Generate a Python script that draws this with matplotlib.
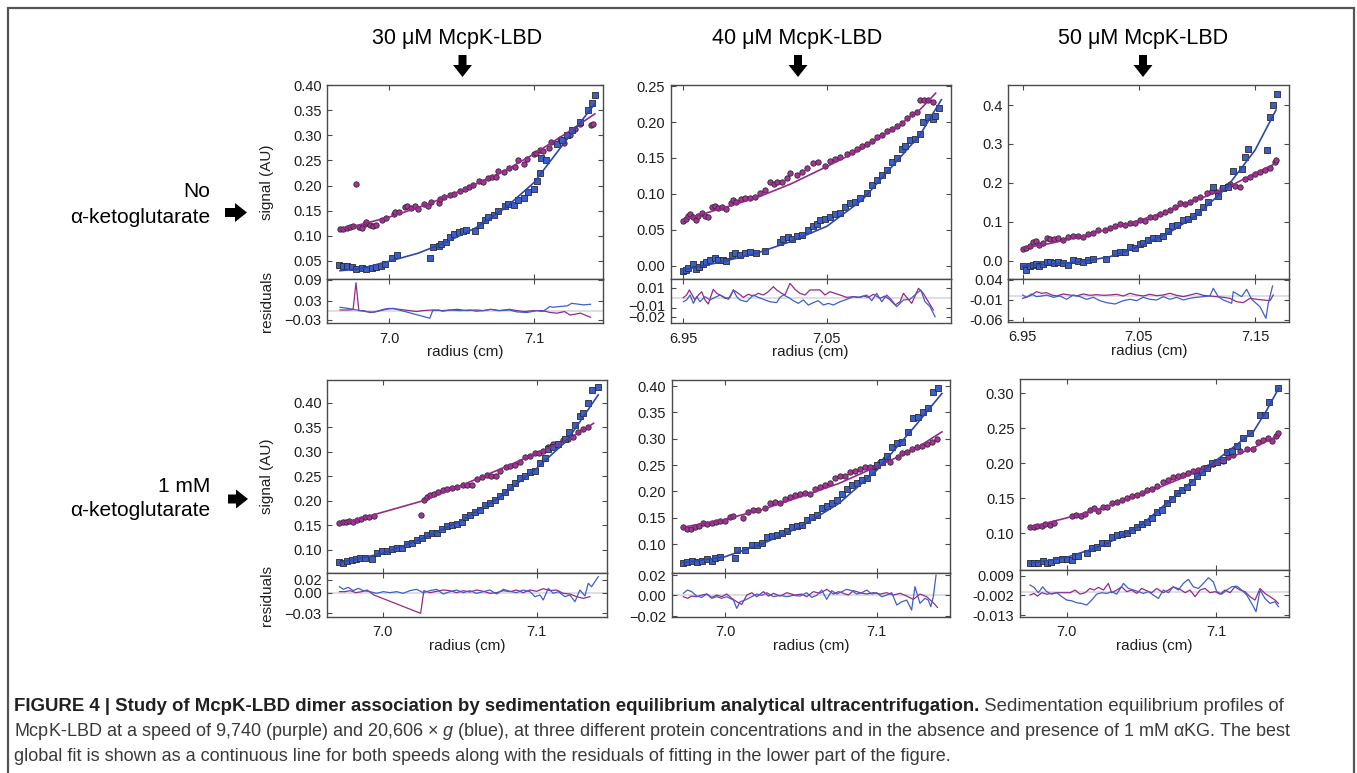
import matplotlib.pyplot as plt
from matplotlib.patches import Polygon, Rectangle
from matplotlib import font_manager

plt.rcParams['font.family'] = ['Liberation Sans', 'DejaVu Sans']
plt.rcParams['mathtext.fontset'] = 'custom'
plt.rcParams['mathtext.it'] = 'Liberation Sans:italic'
plt.rcParams['mathtext.rm'] = 'Liberation Sans'

# ---------------- data: (radius cm, signal AU) ----------------
# 30 uM, no aKG
a_pur = [(6.966, 0.114), (6.968, 0.114), (6.971, 0.116), (6.973, 0.118), (6.975, 0.120), (6.977, 0.204),
         (6.979, 0.118), (6.981, 0.116), (6.983, 0.124), (6.984, 0.128), (6.987, 0.122), (6.989, 0.120),
         (6.991, 0.121), (6.995, 0.132), (6.998, 0.136), (7.003, 0.143), (7.004, 0.147), (7.007, 0.147),
         (7.011, 0.157), (7.012, 0.159), (7.015, 0.155), (7.018, 0.159), (7.020, 0.154), (7.024, 0.163),
         (7.027, 0.159), (7.029, 0.167), (7.034, 0.165), (7.035, 0.174), (7.038, 0.177), (7.042, 0.181),
         (7.045, 0.184), (7.049, 0.189), (7.052, 0.194), (7.055, 0.197), (7.058, 0.202), (7.062, 0.209),
         (7.065, 0.207), (7.068, 0.214), (7.071, 0.217), (7.074, 0.216), (7.075, 0.229), (7.079, 0.227),
         (7.083, 0.234), (7.087, 0.237), (7.089, 0.250), (7.093, 0.242), (7.095, 0.253), (7.100, 0.262),
         (7.101, 0.265), (7.104, 0.270), (7.106, 0.269), (7.110, 0.275), (7.112, 0.287), (7.118, 0.293),
         (7.121, 0.285), (7.125, 0.300), (7.128, 0.313), (7.132, 0.323), (7.139, 0.320), (7.141, 0.323)]
a_blu = [(6.965, 0.041), (6.968, 0.040), (6.971, 0.039), (6.974, 0.038), (6.977, 0.033), (6.981, 0.035),
         (6.984, 0.033), (6.988, 0.035), (6.991, 0.038), (6.994, 0.040), (6.997, 0.043), (7.002, 0.055),
         (7.005, 0.061), (7.028, 0.056), (7.030, 0.078), (7.034, 0.079), (7.036, 0.084), (7.039, 0.088),
         (7.042, 0.098), (7.045, 0.104), (7.048, 0.108), (7.051, 0.110), (7.053, 0.112), (7.059, 0.109),
         (7.063, 0.122), (7.066, 0.132), (7.068, 0.137), (7.072, 0.141), (7.075, 0.149), (7.080, 0.159),
         (7.082, 0.163), (7.086, 0.161), (7.089, 0.172), (7.093, 0.176), (7.096, 0.187), (7.100, 0.194),
         (7.102, 0.209), (7.104, 0.225), (7.105, 0.255), (7.108, 0.250), (7.116, 0.283), (7.119, 0.291),
         (7.123, 0.300), (7.126, 0.311), (7.132, 0.326), (7.137, 0.350), (7.140, 0.364), (7.142, 0.381)]
a_pfit = [(6.966, 0.113), (6.98, 0.122), (7.0, 0.137), (7.02, 0.156), (7.04, 0.178), (7.06, 0.203),
          (7.08, 0.230), (7.10, 0.263), (7.12, 0.300), (7.142, 0.343)]
a_bfit = [(6.966, 0.030), (6.98, 0.034), (7.0, 0.049), (7.02, 0.065), (7.04, 0.088), (7.06, 0.116),
          (7.08, 0.155), (7.10, 0.206), (7.12, 0.282), (7.142, 0.363)]
a_pres = [(6.966, 0.002), (6.971, 0.002), (6.975, 0.003), (6.977, 0.088), (6.979, 0.0), (6.982, 0.0),
          (6.987, -0.006), (6.991, -0.003), (6.996, 0.004), (7.000, 0.007), (7.007, 0.004), (7.014, 0.0),
          (7.019, -0.003), (7.023, 0.0), (7.030, 0.002), (7.037, 0.0), (7.047, 0.004), (7.053, 0.0),
          (7.060, 0.002), (7.065, 0.0), (7.070, 0.004), (7.076, 0.0), (7.083, 0.004), (7.088, 0.0),
          (7.093, -0.003), (7.100, 0.0), (7.106, 0.0), (7.111, -0.006), (7.116, -0.008), (7.121, -0.003),
          (7.125, -0.014), (7.132, -0.008), (7.139, -0.021)]
a_bres = [(6.966, 0.0105), (6.971, 0.0074), (6.975, 0.0042), (6.980, 0.0), (6.984, -0.0032), (6.989, -0.0053),
          (6.994, 0.0), (6.998, 0.0042), (7.003, 0.0074), (7.005, 0.0042), (7.028, -0.024), (7.030, 0.0),
          (7.034, 0.002), (7.037, -0.002), (7.042, 0.002), (7.049, 0.0), (7.056, 0.002), (7.060, -0.002),
          (7.065, 0.0), (7.070, 0.004), (7.076, 0.0), (7.083, 0.002), (7.088, -0.004), (7.095, -0.006),
          (7.102, 0.0), (7.106, -0.003), (7.111, 0.013), (7.113, 0.0105), (7.118, 0.013), (7.123, 0.015),
          (7.126, 0.023), (7.131, 0.020), (7.134, 0.018), (7.139, 0.020)]

# 40 uM, no aKG
b_pur = [(6.950, 0.062), (6.952, 0.065), (6.9535, 0.069), (6.955, 0.072), (6.957, 0.068), (6.959, 0.064),
         (6.9605, 0.069), (6.963, 0.074), (6.965, 0.069), (6.967, 0.0685), (6.970, 0.082), (6.972, 0.083),
         (6.974, 0.080), (6.977, 0.082), (6.980, 0.079), (6.983, 0.088), (6.985, 0.091), (6.987, 0.089),
         (6.990, 0.093), (6.993, 0.094), (6.9965, 0.095), (7.000, 0.096), (7.0035, 0.102), (7.007, 0.106),
         (7.0105, 0.116), (7.013, 0.114), (7.015, 0.117), (7.0186, 0.116), (7.022, 0.122), (7.0244, 0.129),
         (7.029, 0.126), (7.0326, 0.131), (7.036, 0.136), (7.0407, 0.143), (7.0442, 0.144), (7.0488, 0.139),
         (7.0523, 0.146), (7.0558, 0.148), (7.0593, 0.152), (7.064, 0.156), (7.0674, 0.159), (7.0709, 0.162),
         (7.0744, 0.166), (7.0779, 0.170), (7.0814, 0.174), (7.0849, 0.179), (7.0884, 0.182), (7.0919, 0.187),
         (7.0953, 0.190), (7.0988, 0.194), (7.1023, 0.199), (7.1058, 0.205), (7.1093, 0.211), (7.1128, 0.214),
         (7.1151, 0.231), (7.1179, 0.230), (7.1209, 0.231), (7.1244, 0.228)]
b_blu = [(6.950, -0.0065), (6.952, -0.0056), (6.9535, -0.003), (6.9565, 0.003), (6.959, -0.0046),
         (6.961, -0.002), (6.964, 0.003), (6.966, 0.006), (6.9686, 0.008), (6.972, 0.011), (6.9744, 0.008),
         (6.9774, 0.008), (6.980, 0.007), (6.9837, 0.015), (6.986, 0.018), (6.9895, 0.015), (6.993, 0.018),
         (6.9965, 0.019), (7.001, 0.0185), (7.007, 0.021), (7.0174, 0.034), (7.0198, 0.037), (7.0233, 0.040),
         (7.0256, 0.038), (7.029, 0.042), (7.0326, 0.043), (7.0372, 0.050), (7.0407, 0.055), (7.043, 0.058),
         (7.0453, 0.064), (7.0488, 0.065), (7.0523, 0.0685), (7.0558, 0.072), (7.0593, 0.074), (7.0628, 0.082),
         (7.0663, 0.087), (7.0698, 0.089), (7.0733, 0.094), (7.0779, 0.102), (7.0814, 0.1125), (7.0849, 0.119),
         (7.0884, 0.126), (7.0919, 0.134), (7.0953, 0.145), (7.0988, 0.150), (7.1023, 0.162), (7.1047, 0.167),
         (7.1081, 0.175), (7.1116, 0.176), (7.1151, 0.184), (7.1174, 0.200), (7.1209, 0.207), (7.1244, 0.204),
         (7.1256, 0.208), (7.1286, 0.220)]
b_pfit = [(6.950, 0.064), (6.975, 0.079), (7.0, 0.094), (7.025, 0.114), (7.05, 0.138), (7.075, 0.163),
          (7.10, 0.195), (7.115, 0.217), (7.126, 0.240)]
b_bfit = [(6.950, -0.0055), (6.975, 0.005), (7.0, 0.017), (7.025, 0.034), (7.05, 0.055), (7.075, 0.092),
          (7.10, 0.148), (7.115, 0.182), (7.13, 0.231)]
b_pres = [(6.950, 0.0003), (6.9523, 0.0029), (6.9542, 0.0078), (6.9558, 0.0039), (6.9581, -0.0019),
          (6.9605, 0.0029), (6.9628, 0.0061), (6.9651, -0.0019), (6.9674, -0.0058), (6.9709, 0.0084),
          (6.9733, 0.0045), (6.9756, 0.0029), (6.9779, 0.0013), (6.9814, -0.0013), (6.9849, 0.0078),
          (6.9884, 0.0045), (6.9919, 0.0006), (6.9953, 0.0036), (6.9988, 0.0019), (7.0023, 0.0045),
          (7.0058, 0.0029), (7.0093, 0.0061), (7.0128, 0.011), (7.0151, 0.0078), (7.0186, 0.0045),
          (7.0209, 0.0029), (7.0244, 0.0142), (7.0279, 0.0084), (7.0314, 0.0045), (7.0349, 0.0029),
          (7.0384, 0.0078), (7.0419, 0.0078), (7.0453, 0.0078), (7.0488, 0.0029), (7.0523, 0.0061),
          (7.0558, 0.0045), (7.0593, 0.0029), (7.064, 0.0006), (7.0686, 0.0013), (7.0721, 0.0006),
          (7.0756, 0.0019), (7.0791, 0.0006), (7.0826, 0.0036), (7.0872, -0.0003), (7.0907, 0.0019),
          (7.0942, -0.0019), (7.0977, -0.0068), (7.1012, -0.0036), (7.1035, 0.0045), (7.1058, 0.0006),
          (7.1093, -0.0052), (7.114, 0.0094), (7.1174, 0.0045), (7.1209, -0.0036), (7.1244, -0.0116)]
b_bres = [(6.950, -0.0036), (6.9523, -0.0019), (6.9547, 0.0029), (6.957, -0.0052), (6.9593, 0.0013),
          (6.9616, -0.0036), (6.9651, 0.0013), (6.9686, -0.0019), (6.9721, 0.0006), (6.9756, 0.0029),
          (6.9791, -0.0003), (6.9826, 0.0006), (6.9849, 0.0078), (6.9872, 0.0013), (6.9895, -0.0019),
          (6.9942, -0.0036), (6.9988, 0.0029), (7.0023, 0.0006), (7.007, -0.0019), (7.0105, -0.0036),
          (7.0151, -0.0045), (7.0174, 0.0006), (7.0198, 0.0029), (7.0233, 0.0006), (7.0267, -0.0026),
          (7.0302, -0.0052), (7.0337, -0.0019), (7.0372, -0.0068), (7.0407, -0.0045), (7.0442, -0.0026),
          (7.0477, -0.0068), (7.0512, -0.0052), (7.0547, -0.0068), (7.0593, -0.0036), (7.064, -0.0013),
          (7.0686, 0.0013), (7.0733, 0.0006), (7.0779, 0.0029), (7.0814, -0.0026), (7.0849, 0.0045),
          (7.0884, -0.0036), (7.0919, 0.0029), (7.0953, -0.0019), (7.0988, -0.0084), (7.1035, -0.0019),
          (7.1081, -0.0013), (7.1128, 0.0045), (7.1156, 0.0078), (7.1186, -0.0036), (7.1221, -0.0084),
          (7.1256, -0.0181)]

# 50 uM, no aKG
c_pur = [(6.950, 0.029), (6.953, 0.032), (6.956, 0.038), (6.9586, 0.049), (6.9615, 0.051), (6.9643, 0.040),
         (6.9672, 0.046), (6.9707, 0.057), (6.9735, 0.056), (6.977, 0.055), (6.9807, 0.057), (6.985, 0.053),
         (6.9893, 0.060), (6.9936, 0.063), (6.9979, 0.064), (7.0022, 0.062), (7.0065, 0.069), (7.0108, 0.070),
         (7.0151, 0.079), (7.0209, 0.080), (7.0252, 0.083), (7.0295, 0.089), (7.0338, 0.094), (7.0381, 0.092),
         (7.0424, 0.096), (7.0467, 0.098), (7.051, 0.105), (7.0553, 0.103), (7.0596, 0.113), (7.0639, 0.113),
         (7.0682, 0.120), (7.0725, 0.126), (7.0768, 0.130), (7.0811, 0.139), (7.0854, 0.147), (7.0897, 0.146),
         (7.094, 0.152), (7.0983, 0.158), (7.1026, 0.164), (7.1083, 0.173), (7.1126, 0.180), (7.1169, 0.177),
         (7.1213, 0.186), (7.1256, 0.192), (7.1284, 0.197), (7.1327, 0.192), (7.137, 0.190), (7.1413, 0.209),
         (7.1456, 0.216), (7.150, 0.223), (7.1542, 0.229), (7.1585, 0.233), (7.1629, 0.237), (7.1672, 0.254),
         (7.168, 0.259)]
c_blu = [(6.950, -0.015), (6.953, -0.024), (6.956, -0.015), (6.9586, -0.011), (6.9615, -0.009),
         (6.9643, -0.014), (6.9678, -0.009), (6.9707, -0.004), (6.9735, -0.003), (6.977, -0.007),
         (6.9807, -0.004), (6.985, -0.007), (6.9893, -0.011), (6.9936, 0.002), (6.9979, -0.001),
         (7.0022, -0.003), (7.0065, 0.002), (7.0108, 0.003), (7.0217, 0.003), (7.0295, 0.019), (7.0338, 0.021),
         (7.0381, 0.023), (7.0424, 0.034), (7.0467, 0.032), (7.051, 0.043), (7.0538, 0.046), (7.0581, 0.053),
         (7.0624, 0.057), (7.0668, 0.057), (7.0711, 0.063), (7.0754, 0.077), (7.0782, 0.089), (7.0825, 0.092),
         (7.0883, 0.105), (7.0926, 0.106), (7.0969, 0.115), (7.1012, 0.126), (7.1055, 0.139), (7.1098, 0.152),
         (7.1141, 0.189), (7.1184, 0.166), (7.1227, 0.186), (7.127, 0.190), (7.1313, 0.231), (7.1385, 0.235),
         (7.1413, 0.266), (7.1442, 0.286), (7.160, 0.284), (7.1629, 0.370), (7.1651, 0.400), (7.1686, 0.428)]
c_pfit = [(6.95, 0.032), (6.975, 0.045), (7.0, 0.062), (7.025, 0.082), (7.05, 0.103), (7.075, 0.128),
          (7.1, 0.156), (7.125, 0.186), (7.15, 0.225), (7.168, 0.250)]
c_bfit = [(6.95, -0.014), (7.0, -0.003), (7.025, 0.010), (7.05, 0.036), (7.075, 0.070), (7.1, 0.117),
          (7.125, 0.186), (7.15, 0.284), (7.168, 0.387)]
c_pres = [(6.950, -0.0058), (6.9534, -0.0033), (6.9577, 0.0025), (6.962, 0.0108), (6.9664, 0.0067),
          (6.9707, 0.0083), (6.975, 0.0025), (6.9793, 0.0), (6.985, 0.005), (6.9907, 0.0025), (6.9965, 0.0),
          (7.0022, 0.005), (7.0079, 0.0017), (7.0137, 0.0033), (7.0194, 0.0017), (7.0252, 0.0025),
          (7.0309, 0.0042), (7.0366, 0.0), (7.0424, 0.0067), (7.0481, 0.0025), (7.0538, 0.0), (7.0596, 0.0042),
          (7.0653, 0.0008), (7.0711, 0.0025), (7.0768, 0.0067), (7.0825, 0.0017), (7.0883, -0.0017),
          (7.094, 0.0025), (7.0997, 0.0067), (7.1055, 0.0017), (7.1112, 0.0), (7.1169, -0.0017),
          (7.1227, -0.0033), (7.1284, -0.0058), (7.1341, -0.0142), (7.1399, -0.0167), (7.1456, -0.0058),
          (7.1514, -0.0083), (7.1571, -0.01), (7.1629, -0.0117), (7.1657, 0.0025)]
c_bres = [(6.950, 0.0025), (6.9534, -0.0033), (6.9577, 0.005), (6.962, -0.0017), (6.9664, 0.0),
          (6.9707, 0.0025), (6.9764, -0.0033), (6.9821, 0.0), (6.9879, -0.0083), (6.9936, 0.0025),
          (6.9993, -0.0017), (7.0051, -0.0083), (7.0108, -0.0033), (7.0166, -0.0117), (7.0223, -0.0167),
          (7.0295, -0.02), (7.0366, -0.0117), (7.0424, -0.0083), (7.0481, -0.0117), (7.0538, -0.0033),
          (7.0596, -0.0083), (7.0653, -0.01), (7.0711, -0.0017), (7.0768, -0.0083), (7.0825, -0.0033),
          (7.0883, -0.01), (7.094, -0.0058), (7.0997, -0.0033), (7.1055, -0.0017), (7.1112, 0.0),
          (7.1141, 0.0192), (7.1184, -0.0017), (7.1227, -0.01), (7.1299, -0.0183), (7.1313, 0.0108),
          (7.1385, -0.0017), (7.1428, 0.0167), (7.1471, -0.0083), (7.1542, -0.0267), (7.1594, -0.0558),
          (7.1614, -0.0183), (7.1651, 0.025)]

# 30 uM, 1 mM aKG
d_pur = [(6.972, 0.154), (6.9745, 0.156), (6.9762, 0.158), (6.9784, 0.159), (6.9805, 0.158), (6.9831, 0.161),
         (6.9857, 0.164), (6.9885, 0.167), (6.9913, 0.168), (6.9944, 0.169), (7.0247, 0.171), (7.0268, 0.202),
         (7.0286, 0.207), (7.0307, 0.212), (7.0333, 0.214), (7.0361, 0.219), (7.039, 0.222), (7.0416, 0.224),
         (7.0448, 0.226), (7.0481, 0.228), (7.0519, 0.232), (7.0545, 0.232), (7.0578, 0.232), (7.061, 0.244),
         (7.0643, 0.249), (7.0675, 0.253), (7.0701, 0.251), (7.0736, 0.251), (7.0762, 0.260), (7.0801, 0.268),
         (7.0827, 0.271), (7.0859, 0.273), (7.0892, 0.280), (7.0924, 0.289), (7.0957, 0.291), (7.0989, 0.297),
         (7.1017, 0.298), (7.1043, 0.302), (7.1076, 0.309), (7.1108, 0.316), (7.1141, 0.314), (7.1173, 0.324),
         (7.1206, 0.327), (7.1234, 0.331), (7.1271, 0.341), (7.1303, 0.346), (7.1335, 0.350)]
d_blu = [(6.972, 0.076), (6.9745, 0.074), (6.9771, 0.078), (6.9799, 0.080), (6.9827, 0.081), (6.9853, 0.083),
         (6.9885, 0.083), (6.9929, 0.081), (6.9961, 0.0946), (6.9994, 0.097), (7.0026, 0.0986), (7.0058, 0.103),
         (7.0091, 0.105), (7.0123, 0.105), (7.0156, 0.112), (7.0188, 0.114), (7.0221, 0.120), (7.0253, 0.124),
         (7.0286, 0.131), (7.0318, 0.134), (7.0351, 0.134), (7.0383, 0.142), (7.0416, 0.148), (7.0448, 0.151),
         (7.0481, 0.153), (7.0513, 0.156), (7.0535, 0.168), (7.0567, 0.171), (7.060, 0.178), (7.0632, 0.181),
         (7.0665, 0.192), (7.0697, 0.196), (7.0729, 0.202), (7.0762, 0.209), (7.0794, 0.219), (7.0827, 0.229),
         (7.0859, 0.236), (7.0892, 0.246), (7.0924, 0.251), (7.0957, 0.258), (7.0989, 0.260), (7.1022, 0.278),
         (7.1054, 0.287), (7.1076, 0.305), (7.1108, 0.310), (7.1141, 0.316), (7.1184, 0.327), (7.1212, 0.341),
         (7.1249, 0.355), (7.1281, 0.372), (7.1303, 0.380), (7.1335, 0.399), (7.1357, 0.426), (7.140, 0.431)]
d_pfit = [(6.972, 0.153), (6.99, 0.168), (7.026, 0.200), (7.05, 0.230), (7.075, 0.263), (7.10, 0.297),
          (7.12, 0.324), (7.137, 0.358)]
d_bfit = [(6.972, 0.074), (7.0, 0.093), (7.025, 0.122), (7.05, 0.158), (7.075, 0.205), (7.10, 0.266),
          (7.12, 0.324), (7.14, 0.416)]
d_pres = [(6.972, 0.0015), (6.9755, 0.0015), (6.9788, 0.003), (6.9827, 0.0), (6.9864, 0.0015), (6.990, 0.004),
          (6.9944, -0.0035), (7.0247, -0.031), (7.0268, 0.003), (7.0307, 0.0), (7.0351, 0.002), (7.0394, 0.004),
          (7.0437, 0.003), (7.0481, 0.0), (7.0524, 0.003), (7.0567, 0.001), (7.061, 0.004), (7.0654, 0.002),
          (7.0697, -0.001), (7.074, 0.0), (7.0784, 0.003), (7.0827, 0.0015), (7.087, 0.004), (7.0913, 0.0),
          (7.0957, 0.004), (7.100, 0.002), (7.1043, 0.006), (7.1087, 0.003), (7.113, 0.004), (7.1173, -0.001),
          (7.1216, -0.002), (7.126, -0.006), (7.1303, -0.0085), (7.1346, -0.006)]
d_bres = [(6.972, 0.009), (6.9745, 0.005), (6.9777, 0.008), (6.981, 0.003), (6.9842, 0.0065), (6.9874, 0.003),
          (6.9918, 0.0015), (6.9961, -0.001), (7.0004, 0.0015), (7.0048, 0.0), (7.0091, 0.0015), (7.0134, -0.001),
          (7.0177, 0.003), (7.0221, 0.005), (7.0264, 0.0), (7.0307, 0.003), (7.0351, 0.005), (7.0394, -0.002),
          (7.0437, 0.0015), (7.0481, 0.004), (7.0524, 0.0), (7.0567, 0.003), (7.061, -0.001), (7.0654, 0.0015),
          (7.0697, 0.004), (7.074, -0.002), (7.0784, 0.005), (7.0827, 0.002), (7.087, 0.0), (7.0913, 0.004),
          (7.0957, 0.0015), (7.0989, -0.006), (7.1022, -0.0035), (7.1043, -0.011), (7.1076, 0.0065),
          (7.1108, -0.001), (7.1141, 0.0015), (7.1184, -0.006), (7.1216, -0.0035), (7.1249, -0.0135),
          (7.1281, 0.004), (7.1314, -0.005), (7.1335, 0.014), (7.1357, 0.009), (7.140, 0.024)]

# 40 uM, 1 mM aKG
e_pur = [(6.9725, 0.133), (6.9747, 0.128), (6.9774, 0.128), (6.9802, 0.132), (6.9831, 0.134), (6.9857, 0.139),
         (6.9884, 0.138), (6.9912, 0.1405), (6.9941, 0.142), (6.9967, 0.144), (7.000, 0.144), (7.0033, 0.152),
         (7.0055, 0.153), (7.0121, 0.149), (7.0154, 0.161), (7.0187, 0.1645), (7.022, 0.1645), (7.0264, 0.168),
         (7.0297, 0.177), (7.033, 0.180), (7.0363, 0.178), (7.0396, 0.185), (7.0428, 0.189), (7.0461, 0.193),
         (7.0494, 0.195), (7.0527, 0.197), (7.056, 0.195), (7.0593, 0.204), (7.0626, 0.209), (7.0659, 0.212),
         (7.0692, 0.215), (7.0725, 0.225), (7.0758, 0.229), (7.0791, 0.229), (7.0824, 0.237), (7.0857, 0.239),
         (7.089, 0.242), (7.0923, 0.246), (7.0956, 0.247), (7.0989, 0.247), (7.1022, 0.256), (7.1055, 0.261),
         (7.1088, 0.256), (7.1143, 0.265), (7.1165, 0.272), (7.1198, 0.275), (7.123, 0.280), (7.1263, 0.284),
         (7.1296, 0.286), (7.1329, 0.290), (7.1362, 0.294), (7.140, 0.299)]
e_blu = [(6.9725, 0.0633), (6.9752, 0.0665), (6.978, 0.068), (6.9813, 0.0665), (6.9846, 0.068), (6.9879, 0.071),
         (6.9912, 0.068), (6.9934, 0.073), (6.9967, 0.076), (7.0066, 0.073), (7.0077, 0.0886), (7.0132, 0.0886),
         (7.0176, 0.098), (7.0209, 0.098), (7.0242, 0.1025), (7.0275, 0.1127), (7.0308, 0.115), (7.0341, 0.117),
         (7.0374, 0.1215), (7.0407, 0.125), (7.0439, 0.1316), (7.0472, 0.134), (7.0505, 0.136), (7.0538, 0.1456),
         (7.0571, 0.152), (7.0604, 0.155), (7.0637, 0.168), (7.067, 0.172), (7.0703, 0.177), (7.0736, 0.1835),
         (7.0769, 0.195), (7.0802, 0.204), (7.0835, 0.212), (7.0868, 0.216), (7.0901, 0.2215), (7.0934, 0.2247),
         (7.0967, 0.237), (7.100, 0.250), (7.1033, 0.256), (7.1066, 0.267), (7.1099, 0.2835), (7.1132, 0.291),
         (7.1165, 0.294), (7.1209, 0.313), (7.1241, 0.339), (7.1274, 0.342), (7.1307, 0.351), (7.134, 0.359),
         (7.1373, 0.389), (7.1406, 0.396)]
e_pfit = [(6.9725, 0.132), (7.0, 0.147), (7.025, 0.166), (7.05, 0.190), (7.075, 0.215), (7.10, 0.247),
          (7.125, 0.280), (7.143, 0.313)]
e_bfit = [(6.9725, 0.0646), (7.0, 0.076), (7.025, 0.101), (7.05, 0.133), (7.075, 0.177), (7.10, 0.240),
          (7.125, 0.323), (7.143, 0.386)]
e_pres = [(6.9725, -0.0013), (6.9752, -0.0029), (6.978, -0.0007), (6.9813, -0.0013), (6.9846, 0.0003),
          (6.9879, 0.0013), (6.9912, -0.002), (6.9945, 0.0003), (6.9978, -0.0013), (7.0011, 0.0013),
          (7.0044, -0.0029), (7.0077, -0.0062), (7.011, -0.0088), (7.0143, 0.0003), (7.0176, 0.0026),
          (7.0209, -0.0013), (7.0253, 0.0036), (7.0286, -0.0007), (7.0319, 0.002), (7.0363, -0.0007),
          (7.0407, 0.0026), (7.0461, 0.0003), (7.0505, 0.0013), (7.0538, -0.0013), (7.0582, 0.0036),
          (7.0626, 0.002), (7.067, 0.0059), (7.0714, 0.0013), (7.0747, 0.0036), (7.078, 0.002), (7.0813, 0.0003),
          (7.0846, 0.0046), (7.089, 0.0026), (7.0934, 0.0013), (7.0978, 0.0026), (7.1022, 0.0013),
          (7.1066, 0.0026), (7.111, 0.0003), (7.1154, 0.002), (7.1198, -0.0007), (7.1241, -0.0039),
          (7.1285, 0.0013), (7.1329, -0.0013), (7.1373, -0.0072), (7.140, -0.0117)]
e_bres = [(6.9725, 0.002), (6.9752, 0.0052), (6.978, 0.0036), (6.9813, -0.0007), (6.9846, -0.002),
          (6.9879, 0.0013), (6.9912, -0.0029), (6.9945, -0.0013), (6.9978, -0.0029), (7.0011, -0.0013),
          (7.0055, -0.0046), (7.0077, -0.0127), (7.0099, -0.0062), (7.0132, -0.0046), (7.0176, -0.0013),
          (7.0209, 0.0013), (7.0242, 0.0), (7.0275, 0.0026), (7.0319, -0.0013), (7.0363, 0.0), (7.0407, -0.0013),
          (7.045, 0.0), (7.0494, -0.0007), (7.0538, 0.0026), (7.0571, -0.002), (7.0604, 0.0), (7.0637, 0.0052),
          (7.067, -0.0039), (7.0703, 0.0046), (7.0736, 0.0013), (7.0769, 0.0036), (7.0802, 0.0059),
          (7.0835, 0.0046), (7.0868, 0.0013), (7.0901, 0.0026), (7.0934, 0.0052), (7.0967, 0.0013),
          (7.100, 0.0026), (7.1033, -0.0013), (7.1066, 0.0003), (7.1099, 0.0026), (7.1132, -0.0094),
          (7.1165, -0.0062), (7.1198, -0.0046), (7.123, -0.0143), (7.1252, 0.0085), (7.1285, -0.0078),
          (7.1318, -0.0029), (7.134, -0.0046), (7.1356, -0.011), (7.1373, -0.0013), (7.1391, 0.0198)]

# 50 uM, 1 mM aKG
f_pur = [(6.9754, 0.1095), (6.9781, 0.109), (6.9804, 0.110), (6.9833, 0.110), (6.9855, 0.113), (6.9888, 0.112),
         (6.9915, 0.115), (7.0033, 0.125), (7.0063, 0.126), (7.0094, 0.125), (7.0123, 0.128), (7.0156, 0.133),
         (7.0183, 0.136), (7.0212, 0.132), (7.0246, 0.138), (7.0272, 0.137), (7.0301, 0.144), (7.0335, 0.145),
         (7.0368, 0.147), (7.0402, 0.150), (7.0435, 0.153), (7.0469, 0.155), (7.0502, 0.157), (7.0536, 0.162),
         (7.0569, 0.163), (7.0603, 0.168), (7.0647, 0.174), (7.0681, 0.176), (7.0714, 0.180), (7.0748, 0.182),
         (7.0781, 0.183), (7.0815, 0.186), (7.0848, 0.1895), (7.0882, 0.190), (7.0915, 0.194), (7.0949, 0.195),
         (7.0982, 0.199), (7.1016, 0.202), (7.1049, 0.204), (7.1083, 0.209), (7.1116, 0.212), (7.1161, 0.217),
         (7.1206, 0.221), (7.125, 0.220), (7.1284, 0.231), (7.1317, 0.233), (7.1351, 0.236), (7.1373, 0.232),
         (7.1402, 0.239), (7.1418, 0.243)]
f_blu = [(6.9754, 0.058), (6.9781, 0.058), (6.981, 0.057), (6.9839, 0.061), (6.9866, 0.058), (6.9893, 0.0595),
         (6.9929, 0.062), (6.9967, 0.063), (7.000, 0.064), (7.0033, 0.062), (7.0056, 0.0676), (7.0078, 0.0676),
         (7.0134, 0.0724), (7.0167, 0.0786), (7.0201, 0.081), (7.0234, 0.0857), (7.0268, 0.0867), (7.0301, 0.095),
         (7.0335, 0.0976), (7.0368, 0.099), (7.0402, 0.101), (7.0435, 0.105), (7.0469, 0.1095), (7.0502, 0.113),
         (7.0536, 0.1167), (7.0569, 0.1214), (7.0603, 0.131), (7.0636, 0.133), (7.067, 0.143), (7.0703, 0.1486),
         (7.0737, 0.157), (7.077, 0.162), (7.0804, 0.1667), (7.0837, 0.174), (7.0871, 0.182), (7.0904, 0.188),
         (7.0938, 0.193), (7.0971, 0.200), (7.1005, 0.202), (7.1049, 0.205), (7.1072, 0.2167), (7.1105, 0.218),
         (7.1139, 0.2248), (7.1183, 0.2357), (7.1228, 0.243), (7.1295, 0.269), (7.1328, 0.269), (7.1357, 0.288),
         (7.1418, 0.307)]
f_pfit = [(6.9754, 0.109), (7.0, 0.122), (7.025, 0.137), (7.05, 0.155), (7.075, 0.177), (7.10, 0.200),
          (7.125, 0.222), (7.142, 0.240)]
f_bfit = [(6.9754, 0.057), (7.0, 0.0657), (7.025, 0.083), (7.05, 0.112), (7.075, 0.158), (7.10, 0.204),
          (7.125, 0.245), (7.134, 0.276), (7.142, 0.307)]
f_pres = [(6.9754, -0.0018), (6.9781, -0.0009), (6.9804, -0.0024), (6.9833, -0.0005), (6.9866, -0.0013),
          (6.990, -0.0009), (6.9933, -0.0005), (6.9978, -0.0005), (7.0022, -0.0005), (7.0056, 0.001),
          (7.0089, -0.0013), (7.0123, -0.0005), (7.0156, 0.0019), (7.0183, 0.001), (7.0212, 0.0025),
          (7.0246, 0.001), (7.0279, 0.0047), (7.0301, -0.0005), (7.0335, 0.001), (7.0368, 0.0028),
          (7.0402, 0.0001), (7.0435, 0.001), (7.0469, -0.0009), (7.0502, 0.0019), (7.0536, 0.0006),
          (7.0569, -0.0005), (7.0603, 0.0019), (7.0647, -0.0005), (7.0681, 0.001), (7.0714, 0.0028),
          (7.0759, 0.0014), (7.0793, -0.0005), (7.0826, 0.001), (7.086, -0.0027), (7.0893, 0.001),
          (7.0927, 0.0019), (7.096, -0.0005), (7.0994, 0.0001), (7.1027, -0.0013), (7.1061, 0.001),
          (7.1094, -0.0005), (7.1127, 0.0028), (7.1161, 0.001), (7.1194, 0.0001), (7.1228, -0.0027),
          (7.1261, -0.0046), (7.1295, 0.0019), (7.1328, -0.0009), (7.1362, -0.0027), (7.1395, -0.0046),
          (7.1418, -0.0065)]
f_bres = [(6.9754, 0.0038), (6.9781, 0.0025), (6.981, -0.0005), (6.9839, 0.0028), (6.9866, 0.0001),
          (6.990, -0.0013), (6.9933, -0.0005), (6.9967, -0.0027), (7.000, -0.0046), (7.0033, -0.005),
          (7.0067, -0.0061), (7.010, -0.0065), (7.0134, -0.0074), (7.0167, -0.0046), (7.0201, -0.0013),
          (7.0234, -0.0005), (7.0268, -0.0009), (7.0301, 0.0001), (7.0335, -0.0013), (7.038, 0.0047),
          (7.0413, 0.0019), (7.0447, 0.001), (7.048, 0.0001), (7.0514, -0.0009), (7.0547, 0.0001),
          (7.058, -0.0018), (7.0614, -0.0037), (7.0647, 0.001), (7.0681, -0.0005), (7.0714, 0.0028),
          (7.0748, 0.001), (7.0781, 0.0047), (7.0815, 0.007), (7.0848, 0.0028), (7.0882, 0.0019),
          (7.0915, 0.0047), (7.0949, 0.0079), (7.0982, 0.0056), (7.1005, 0.0001), (7.1038, -0.0013),
          (7.1072, 0.001), (7.1105, 0.0028), (7.1139, 0.0032), (7.1172, 0.001), (7.1206, -0.0018),
          (7.1239, -0.0065), (7.1268, -0.0111), (7.1295, 0.001), (7.1328, -0.0037), (7.1362, -0.0065),
          (7.1395, -0.0055), (7.1418, -0.0083)]

# headers / labels
col_titles = ['30 \u03bcM McpK-LBD', '40 \u03bcM McpK-LBD', '50 \u03bcM McpK-LBD']
row_titles = [('No', '\u03b1-ketoglutarate'), ('1 mM', '\u03b1-ketoglutarate')]

# ---------------- figure ----------------
W, H = 1357, 773
fig = plt.figure(figsize=(W / 100, H / 100), dpi=100)

PUR_FILL, BLU_FILL = '#a8339a', '#3d5ec4'
PUR_LINE, BLU_LINE = '#932a8a', '#2c47a8'
SPINE = '#4a4a4a'
TXT = '#1e1e1e'


def fbox(l, t, r, b):
    return [l / W, 1 - b / H, (r - l) / W, (b - t) / H]


def fx(x):
    return x / W


def fy(y):
    return 1 - y / H


def style(ax):
    for s in ax.spines.values():
        s.set_color(SPINE)
        s.set_linewidth(1.0)
    ax.tick_params(direction='in', length=3.5, width=0.8, color=SPINE, top=True, right=True,
                   labelsize=10.5, labelcolor=TXT)
    ax.tick_params(axis='y', pad=4)
    ax.tick_params(axis='x', pad=6)


main_ticks_2 = [0.05, 0.10, 0.15, 0.20, 0.25, 0.30, 0.35, 0.40]
panels = [
    dict(d=(a_pur, a_blu, a_pfit, a_bfit, a_pres, a_bres), box=(327.3, 85, 602.7, 279.3, 323.3),
         xlim=(6.9572, 7.1474), ylim=(0.0129, 0.4005), yt=main_ticks_2, yfmt='%.2f',
         rlim=(-0.040, 0.0987), rt=[0.0966, 0.0305, -0.0294], rl=['0.09', '0.03', '\u22120.03'],
         xt=[7.0, 7.1], xl=['7.0', '7.1'], ylab=True, rstack=False),
    dict(d=(b_pur, b_blu, b_pfit, b_bfit, b_pres, b_bres), box=(670.7, 85, 950.7, 279.3, 323.3),
         xlim=(6.9412, 7.1365), ylim=(-0.0185, 0.2514), yt=[0.0, 0.05, 0.10, 0.15, 0.20, 0.25], yfmt='%.2f',
         rlim=(-0.0245, 0.0181), rt=[0.010, -0.010, -0.0181], rl=['0.01', '\u22120.01', '\u22120.02'],
         xt=[6.95, 7.05], xl=['6.95', '7.05'], ylab=False, rstack=True),
    dict(d=(c_pur, c_blu, c_pfit, c_bfit, c_pres, c_bres), box=(1008.3, 85, 1289.3, 279.3, 322),
         xlim=(6.9377, 7.1795), ylim=(-0.048, 0.4516), yt=[0.0, 0.1, 0.2, 0.3, 0.4], yfmt='%.1f',
         rlim=(-0.065, 0.0417), rt=[0.04, -0.01, -0.06], rl=['0.04', '-0.01', '-0.06'],
         xt=[6.95, 7.05, 7.15], xl=['6.95', '7.05', '7.15'], ylab=False, rstack=False),
    dict(d=(d_pur, d_blu, d_pfit, d_bfit, d_pres, d_bres), box=(327.3, 380, 607.3, 573.3, 616.7),
         xlim=(6.9641, 7.1459), ylim=(0.0525, 0.4462), yt=main_ticks_2[1:], yfmt='%.2f',
         rlim=(-0.036, 0.029), rt=[0.019, 0.0, -0.031], rl=['0.02', '0.00', '\u22120.03'],
         xt=[7.0, 7.1], xl=['7.0', '7.1'], ylab=True, rstack=False),
    dict(d=(e_pur, e_blu, e_pfit, e_bfit, e_pres, e_bres), box=(671.7, 380, 950, 572.7, 616.7),
         xlim=(6.9648, 7.1483), ylim=(0.0456, 0.4114), yt=main_ticks_2[1:], yfmt='%.2f',
         rlim=(-0.0208, 0.0221), rt=[0.0198, 0.0, -0.0202], rl=['0.02', '0.00', '\u22120.02'],
         xt=[7.0, 7.1], xl=['7.0', '7.1'], ylab=False, rstack=False),
    dict(d=(f_pur, f_blu, f_pfit, f_bfit, f_pres, f_bres), box=(1020, 379.3, 1289.3, 570, 616.7),
         xlim=(6.9687, 7.1491), ylim=(0.0476, 0.32), yt=[0.10, 0.15, 0.20, 0.25, 0.30], yfmt='%.2f',
         rlim=(-0.0139, 0.0122), rt=[0.009, -0.002, -0.013], rl=['0.009', '-0.002', '-0.013'],
         xt=[7.0, 7.1], xl=['7.0', '7.1'], ylab=False, rstack=False),
]

for p in panels:
    pur, blu, pfit, bfit, pres, bres = p['d']
    l, t, r, m, b = p['box']
    ax = fig.add_axes(fbox(l, t, r, m))
    rx = fig.add_axes(fbox(l, m, r, b))

    ax.scatter(*zip(*pur), s=15, marker='o', facecolor=PUR_FILL, edgecolor='#2a2a2a', linewidth=0.6, zorder=2)
    ax.scatter(*zip(*blu), s=24, marker='s', facecolor=BLU_FILL, edgecolor='#2a2a2a', linewidth=0.6, zorder=3)
    ax.plot(*zip(*pfit), color=PUR_LINE, lw=1.2, zorder=4)
    ax.plot(*zip(*bfit), color=BLU_LINE, lw=1.2, zorder=4)
    ax.set_xlim(*p['xlim'])
    ax.set_ylim(*p['ylim'])
    ax.set_xticks(p['xt'])
    ax.set_xticklabels([])
    ax.set_yticks(p['yt'])
    ax.set_yticklabels([p['yfmt'] % v for v in p['yt']])
    style(ax)

    rx.axhline(0, color='#dcdcdc', lw=1.3, zorder=0)
    rx.plot(*zip(*pres), color=PUR_LINE, lw=0.9, zorder=2)
    rx.plot(*zip(*bres), color='#3f5fc8', lw=0.9, zorder=3)
    rx.set_xlim(*p['xlim'])
    rx.set_ylim(*p['rlim'])
    rx.set_xticks(p['xt'])
    rx.set_xticklabels(p['xl'])
    rx.set_yticks(p['rt'])
    style(rx)
    if p['rstack']:
        # the two lowest labels sit almost on top of each other: draw them as one block
        rx.set_yticklabels(p['rl'][:-2] + ['', ''])
        ymid = (p['rt'][-2] + p['rt'][-1]) / 2
        rx.text(-5.6 / (r - l), ymid, p['rl'][-2] + '\n' + p['rl'][-1], transform=rx.get_yaxis_transform(),
                ha='right', va='center', multialignment='right', linespacing=0.8, fontsize=10.5, color=TXT)
    else:
        rx.set_yticklabels(p['rl'])

    xc = (l + r) / 2
    fig.text(fx(xc), fy(b + 29), 'radius (cm)', ha='center', va='center', fontsize=11, color=TXT)
    if p['ylab']:
        fig.text(fx(l - 60), fy((t + m) / 2), 'signal (AU)', rotation=90, ha='center', va='center',
                 fontsize=11, color=TXT)
        fig.text(fx(l - 60), fy((m + b) / 2), 'residuals', rotation=90, ha='center', va='center',
                 fontsize=11, color=TXT)


# column headers with down arrows
def down_arrow(cx, top, bot, w=19, shaft=8, head=12):
    pts = [(cx - shaft / 2, top), (cx + shaft / 2, top), (cx + shaft / 2, bot - head), (cx + w / 2, bot - head),
           (cx, bot), (cx - w / 2, bot - head), (cx - shaft / 2, bot - head)]
    fig.patches.append(Polygon([(fx(x), fy(y)) for x, y in pts], closed=True, transform=fig.transFigure,
                               facecolor='black', edgecolor='none'))


def right_arrow(left, right, cy, h=19, shaft=9, head=12):
    pts = [(left, cy - shaft / 2), (right - head, cy - shaft / 2), (right - head, cy - h / 2), (right, cy),
           (right - head, cy + h / 2), (right - head, cy + shaft / 2), (left, cy + shaft / 2)]
    fig.patches.append(Polygon([(fx(x), fy(y)) for x, y in pts], closed=True, transform=fig.transFigure,
                               facecolor='black', edgecolor='none'))


for title, tx, ax_c in zip(col_titles, [457.5, 797.5, 1143.5], [462.5, 798, 1143]):
    fig.text(fx(tx), fy(44), title, ha='center', va='baseline', fontsize=15.5, color='black')
    down_arrow(ax_c, 55, 77)

for (l1, l2), base1, base2, (a0, a1, acy) in zip(row_titles, [197.3, 491.7], [223.3, 516],
                                                  [(225, 247, 212.5), (228, 248, 499)]):
    fig.text(fx(210), fy(base1), l1, ha='right', va='baseline', fontsize=15, color='black')
    fig.text(fx(210), fy(base2), l2, ha='right', va='baseline', fontsize=15, color='black')
    right_arrow(a0, a1, acy)

# outer frame
fig.patches.append(Rectangle((fx(8), fy(790)), (1354 - 8) / W, (790 - 8) / H, transform=fig.transFigure,
                             fill=False, edgecolor='#555555', linewidth=1.6))

# caption
names = {f.name for f in font_manager.fontManager.ttflist}
cap_fam = 'Liberation Sans Narrow' if 'Liberation Sans Narrow' in names else 'Liberation Sans'
if cap_fam == 'Liberation Sans Narrow':
    plt.rcParams['mathtext.it'] = 'Liberation Sans Narrow:italic'

cap_bold = ('FIGURE 4 | Study of McpK-LBD dimer association by sedimentation equilibrium '
            'analytical ultracentrifugation.')
cap_1 = ' Sedimentation equilibrium profiles of'
cap_2 = ('McpK-LBD at a speed of 9,740 (purple) and 20,606 \u00d7 $g$ (blue), at three different protein '
         'concentrations and in the absence and presence of 1 mM \u03b1KG. The best')
cap_3 = ('global fit is shown as a continuous line for both speeds along with the residuals of fitting '
         'in the lower part of the figure.')

x0 = 14
fs = 11.0
t_b = fig.text(fx(x0), fy(711), cap_bold, fontsize=fs, fontweight='bold', family=cap_fam,
               color='#231f20', va='baseline')
t_r = fig.text(fx(x0), fy(711), cap_1, fontsize=fs, family=cap_fam, color='#3a3a3a', va='baseline')
t_2 = fig.text(fx(x0), fy(736), cap_2, fontsize=fs, family=cap_fam, color='#3a3a3a', va='baseline')
t_3 = fig.text(fx(x0), fy(761), cap_3, fontsize=fs, family=cap_fam, color='#3a3a3a', va='baseline')
fig.canvas.draw()
rend = fig.canvas.get_renderer()
w_line1 = t_b.get_window_extent(rend).width + t_r.get_window_extent(rend).width
fs1 = fs * (1289 - x0) / w_line1
w_line2 = t_2.get_window_extent(rend).width
fs2 = fs * (1289 - x0) / w_line2
for t in (t_b, t_r):
    t.set_fontsize(fs1)
for t in (t_2, t_3):
    t.set_fontsize(fs2)
fig.canvas.draw()
t_r.set_x(fx(x0 + t_b.get_window_extent(rend).width))

fig.savefig('out.png', dpi=100)
